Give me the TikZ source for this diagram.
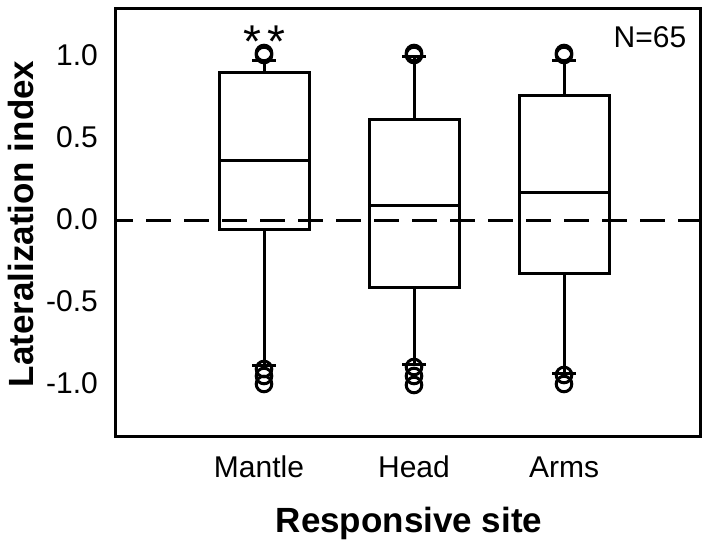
\documentclass[tikz,border=0pt]{standalone}
\usepackage{fontspec}
\setmainfont{Liberation Sans}
\begin{document}
\begin{tikzpicture}[x=1pt,y=-1pt,
  frame/.style={line width=3pt},
  boxln/.style={line width=3pt, line join=miter},
  whisk/.style={line width=3pt},
  outl/.style={line width=3pt},
  zeroln/.style={line width=3pt, dash pattern=on 25pt off 13pt, dash phase=7pt},
  ticklab/.style={anchor=base east, inner sep=0pt, font=\fontsize{30}{34}\selectfont},
  catlab/.style={anchor=base, inner sep=0pt, font=\fontsize{30}{34}\selectfont},
  axlab/.style={anchor=base, inner sep=0pt, font=\fontsize{35}{40}\selectfont\bfseries},
  star/.style={anchor=base, inner sep=0pt, font=\fontsize{46}{50}\selectfont},
  ]
\useasboundingbox (0,0) rectangle (720,546);
\fill[white] (0,0) rectangle (720,546);

% zero line
\draw[zeroln] (115,220) -- (700,220);

% frame
\draw[frame] (115,8) rectangle (700,436);

% Mantle
\draw[boxln] (219,72) rectangle (309,229);
\draw[boxln] (219,160) -- (309,160);
\draw[whisk] (264,72) -- (264,60) (252,60) -- (276,60);
\draw[whisk] (264,229) -- (264,365) (252,365) -- (276,365);
\foreach \yy in {53,55,369,376,384} \draw[outl] (264,\yy) circle[radius=7.8];

% Head
\draw[boxln] (369,119) rectangle (459,287);
\draw[boxln] (369,205) -- (459,205);
\draw[whisk] (414,119) -- (414,56) (402,56) -- (426,56);
\draw[whisk] (414,287) -- (414,364) (402,364) -- (426,364);
\foreach \yy in {53,55,367,376,385} \draw[outl] (414,\yy) circle[radius=7.8];

% Arms
\draw[boxln] (519,95) rectangle (609,273);
\draw[boxln] (519,192) -- (609,192);
\draw[whisk] (564,95) -- (564,60) (552,60) -- (576,60);
\draw[whisk] (564,273) -- (564,373) (552,373) -- (576,373);
\foreach \yy in {53,55,375,384} \draw[outl] (564,\yy) circle[radius=7.8];

% tick labels
\node[ticklab] (t1) at (98,65) {1.0};
\node[ticklab] (t2) at (98,147) {0.5};
\node[ticklab] (t3) at (98,229) {0.0};
\node[ticklab] (t4) at (98,311) {-0.5};
\node[ticklab] (t5) at (98,393) {-1.0};

% category labels
\node[catlab] (c1) at (259,477) {Mantle};
\node[catlab] (c2) at (414,477) {Head};
\node[catlab] (c3) at (564,477) {Arms};

% axis titles
\node[axlab] (xl) at (409,532) {Responsive site};
\node[axlab, rotate=90] (yl) at (33,224) {Lateralization index};

% annotations
\node[catlab] (n) at (650,47) {N=65};
\node[star] (s1) at (252,57) {*};
\node[star] (s2) at (276,57) {*};
\end{tikzpicture}
\end{document}
